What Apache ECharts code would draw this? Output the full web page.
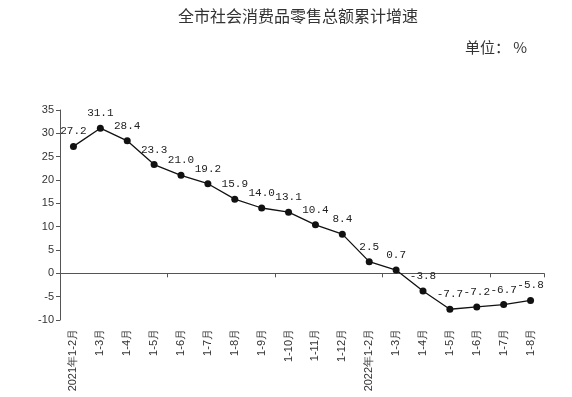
<!DOCTYPE html>
<html><head><meta charset="utf-8">
<script src="https://cdn.jsdelivr.net/npm/echarts@6/dist/echarts.min.js"></script>
<style>html,body{margin:0;padding:0;background:#fff}#c{width:572px;height:397px}</style>
</head><body><div id="c"></div>
<script>
var categories = ['2021年1-2月','1-3月','1-4月','1-5月','1-6月','1-7月','1-8月','1-9月','1-10月','1-11月','1-12月','2022年1-2月','1-3月','1-4月','1-5月','1-6月','1-7月','1-8月'];
var growth = [27.2, 31.1, 28.4, 23.3, 21.0, 19.2, 15.9, 14.0, 13.1, 10.4, 8.4, 2.5, 0.7, -3.8, -7.7, -7.2, -6.7, -5.8];
var yTicks = {min: -10, max: 35, interval: 5};
var titleText = '全市社会消费品零售总额累计增速';
var unitText = '单位： %';

var chart = echarts.init(document.getElementById('c'));
chart.setOption({
  animation: false,
  title: [
    {text: titleText, left: 293, textAlign: 'center', top: 3,
     textStyle: {fontSize: 16, fontWeight: 'normal', color: '#333', fontFamily: 'Noto Sans CJK SC'}},
    {text: unitText, left: 460, top: 35,
     textStyle: {fontSize: 15, fontWeight: 'normal', color: '#333', fontFamily: 'Noto Sans CJK SC'}}
  ],
  grid: {left: 60, right: 28, top: 110, bottom: 77},
  xAxis: [
    {type: 'category', data: categories, position: 'bottom',
     axisLine: {show: false, onZero: false}, axisTick: {show: false},
     axisLabel: {rotate: 90, margin: 9, fontSize: 11, color: '#333', fontFamily: 'Liberation Sans', interval: 0}},
    {type: 'category', data: categories, position: 'bottom',
     axisLine: {show: true, onZero: true, lineStyle: {color: '#555', width: 1}},
     axisTick: {show: true, length: 4, lineStyle: {color: '#555'}},
     axisLabel: {show: false}}
  ],
  yAxis: {type: 'value', min: yTicks.min, max: yTicks.max, interval: yTicks.interval,
    splitLine: {show: false},
    axisLine: {show: true, lineStyle: {color: '#555', width: 1}},
    axisTick: {show: true, length: 4, lineStyle: {color: '#555'}},
    axisLabel: {fontSize: 11, color: '#333', fontFamily: 'Liberation Sans', margin: 6}},
  series: [{
    type: 'line', xAxisIndex: 0, data: growth,
    symbol: 'circle', symbolSize: 7,
    lineStyle: {color: '#111', width: 1.3},
    itemStyle: {color: '#111'},
    label: {show: true, position: 'top', distance: 6, fontSize: 11, color: '#222',
      fontFamily: 'Liberation Mono',
      formatter: function(p){ return p.value.toFixed(1); }}
  }]
});
</script></body></html>
